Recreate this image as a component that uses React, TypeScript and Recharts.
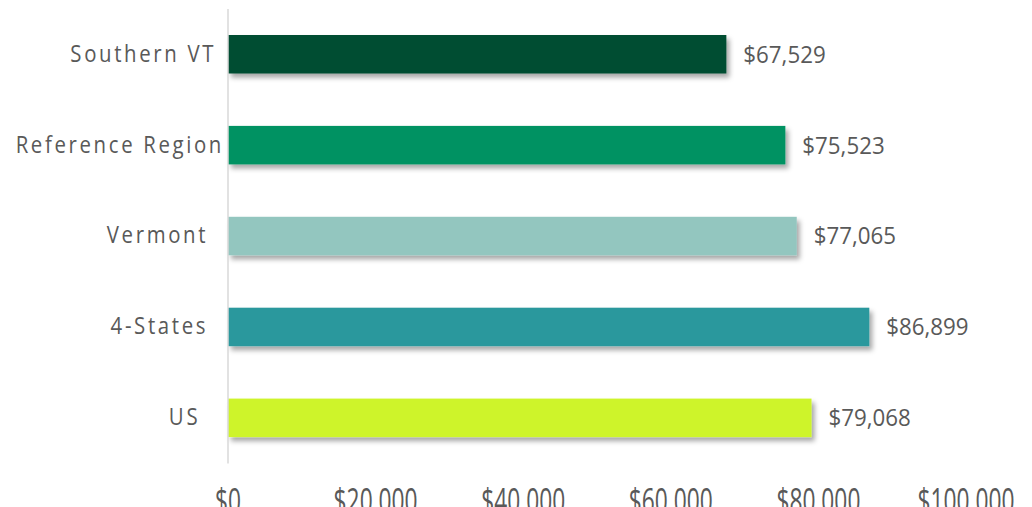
import { BarChart, Bar, XAxis, YAxis, Cell, LabelList } from "recharts";

// trailing spaces keep the ragged right edge of the original labels
const regions = ["Southern VT ", "Reference Region", "Vermont  ", "4-States  ", "US   "];
const incomes = [67529, 75523, 77065, 86899, 79068];
const barColors = ["#004D30", "#009262", "#93C6BF", "#2C989D", "#CEF42A"];
const xTicks = [0, 20000, 40000, 60000, 80000, 100000];

const data = regions.map((name, i) => ({ name, income: incomes[i] }));

const TEXT = "#595959";
const FONT = "'Open Sans', sans-serif";

const money = (v: number) => `$${v.toLocaleString("en-US")}`;

function CategoryTick(props: any) {
  const { x, y, payload } = props;
  return (
    <text
      transform={`translate(${x + 2},${y}) scale(0.85,1)`}
      textAnchor="end"
      dy="0.3em"
      fill={TEXT}
      fontFamily={FONT}
      fontSize={24}
      letterSpacing={3.1}
      style={{ whiteSpace: "pre" }}
    >
      {payload.value}
    </text>
  );
}

function ValueTick(props: any) {
  const { x, y, payload } = props;
  return (
    <text
      transform={`translate(${x},${y}) scale(0.67,1)`}
      textAnchor="middle"
      dy={44}
      fill={TEXT}
      fontFamily={FONT}
      fontSize={34}
    >
      {money(payload.value)}
    </text>
  );
}

function BarValue(props: any) {
  const { x, y, width, height, value } = props;
  return (
    <text
      transform={`translate(${x + width + 17},${y + height / 2}) scale(0.93,1)`}
      dy="0.35em"
      fill={TEXT}
      fontFamily={FONT}
      fontSize={24}
    >
      {money(value)}
    </text>
  );
}

function ShadowBar(props: any) {
  const { x, y, width, height, fill } = props;
  return <rect x={x} y={y} width={width} height={height} fill={fill} filter="url(#barShadow)" />;
}

export default function App() {
  return (
    <div
      style={{
        position: "fixed",
        top: 0,
        left: 0,
        width: 1032,
        height: 507,
        overflow: "hidden",
        background: "#fff",
      }}
    >
      <svg width={0} height={0} style={{ position: "absolute" }}>
        <defs>
          <filter id="barShadow" x="-5%" y="-20%" width="115%" height="160%">
            <feDropShadow dx={3} dy={4} stdDeviation={2.5} floodColor="#000" floodOpacity={0.35} />
          </filter>
        </defs>
      </svg>
      <BarChart
        width={1032}
        height={530}
        data={data}
        layout="vertical"
        margin={{ top: 9, right: 66, left: 0, bottom: 26.5 }}
        barCategoryGap={0}
      >
        <XAxis
          type="number"
          domain={[0, 100000]}
          ticks={xTicks}
          axisLine={false}
          tickLine={false}
          tickMargin={0}
          height={40}
          tick={<ValueTick />}
          interval={0}
        />
        <YAxis
          type="category"
          dataKey="name"
          width={228}
          axisLine={{ stroke: "#D9D9D9", strokeWidth: 1.5 }}
          tickLine={false}
          tickMargin={0}
          tick={<CategoryTick />}
          interval={0}
        />
        <Bar dataKey="income" barSize={38.5} shape={<ShadowBar />} isAnimationActive={false}>
          {data.map((d, i) => (
            <Cell key={d.name} fill={barColors[i]} />
          ))}
          <LabelList dataKey="income" content={<BarValue />} />
        </Bar>
      </BarChart>
    </div>
  );
}
